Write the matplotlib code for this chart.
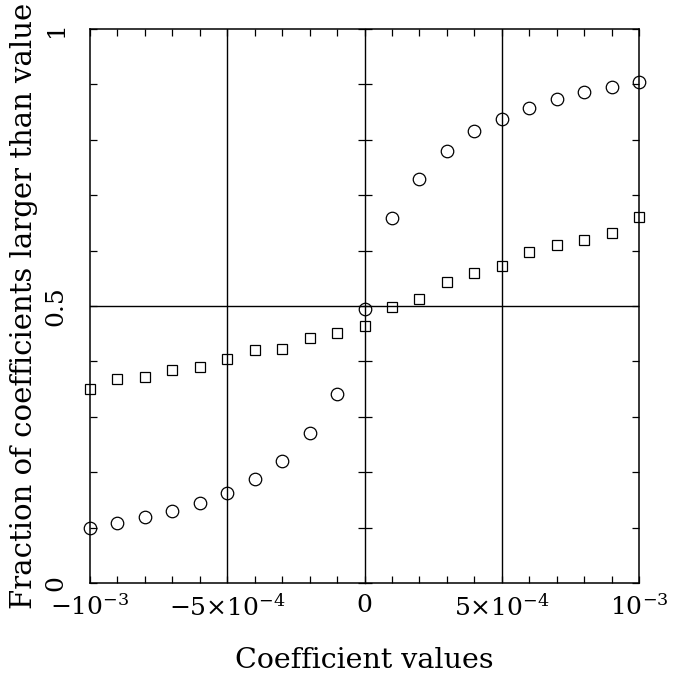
import numpy as np
import matplotlib
matplotlib.use("Agg")
import matplotlib.pyplot as plt
from matplotlib.ticker import MultipleLocator

plt.rcParams['font.family'] = 'DejaVu Serif'
plt.rcParams['mathtext.fontset'] = 'dejavuserif'

# coefficient values (x) and the two fractions
coef = [-1.0e-3, -9e-4, -8e-4, -7e-4, -6e-4, -5e-4, -4e-4, -3e-4, -2e-4, -1e-4, 0.0,
        1e-4, 2e-4, 3e-4, 4e-4, 5e-4, 6e-4, 7e-4, 8e-4, 9e-4, 1.0e-3]
frac_circles = [0.099, 0.108, 0.119, 0.130, 0.144, 0.163, 0.187, 0.220, 0.270, 0.342, 0.494,
                0.658, 0.730, 0.780, 0.815, 0.838, 0.858, 0.874, 0.886, 0.895, 0.904]
frac_squares = [0.350, 0.368, 0.371, 0.384, 0.389, 0.405, 0.421, 0.422, 0.443, 0.451, 0.463,
                0.498, 0.513, 0.544, 0.560, 0.573, 0.598, 0.610, 0.619, 0.631, 0.660]

xticks = [-1e-3, -5e-4, 0, 5e-4, 1e-3]
xticklabels = [r'$-10^{-3}$', r'$-5{\times}10^{-4}$', r'$0$', r'$5{\times}10^{-4}$', r'$10^{-3}$']
yticks = [0, 0.5, 1]
yticklabels = ['0', '0.5', '1']

fig = plt.figure(figsize=(6.75, 6.75), dpi=100)
ax = fig.add_axes([90/675, 92/675, 549/675, 554/675])

ax.plot(coef, frac_circles, 'o', mfc='none', mec='black', ms=9, mew=0.9, clip_on=False, zorder=3)
ax.plot(coef, frac_squares, 's', mfc='none', mec='black', ms=7.3, mew=0.9, clip_on=False, zorder=3)

for xv in [-5e-4, 5e-4]:
    ax.axvline(xv, color='black', lw=1.0)
ax.axhline(0.5, color='black', lw=1.0)

ax.set_xlim(-1e-3, 1e-3)
ax.set_ylim(0, 1)
ax.set_xticks(xticks)
ax.set_xticklabels(xticklabels)
ax.set_yticks(yticks)
ax.set_yticklabels(yticklabels)
ax.xaxis.set_minor_locator(MultipleLocator(1e-4))
ax.yaxis.set_minor_locator(MultipleLocator(0.1))
ax.tick_params(which='both', direction='in', top=True, right=True, length=5, width=0.9,
               labelsize=18)
ax.tick_params(axis='x', pad=8)
ax.tick_params(axis='y', labelrotation=90, pad=16)
for lab in ax.get_yticklabels():
    lab.set_va('center')
for sp in ax.spines.values():
    sp.set_linewidth(1.1)

# axis through zero with ticks crossing it
sec = ax.secondary_yaxis(0.5)
sec.set_yticks(np.arange(0, 1.01, 0.1))
sec.tick_params(direction='inout', length=9.5, width=0.9, labelleft=False, labelright=False)
sec.spines['left'].set_linewidth(1.0)
sec.spines['right'].set_linewidth(1.0)

ax.set_xlabel('Coefficient values', fontsize=20.5, labelpad=19)
ax.set_ylabel('Fraction of coefficients larger than value', fontsize=21, labelpad=5)

fig.savefig('out.png', dpi=100)
